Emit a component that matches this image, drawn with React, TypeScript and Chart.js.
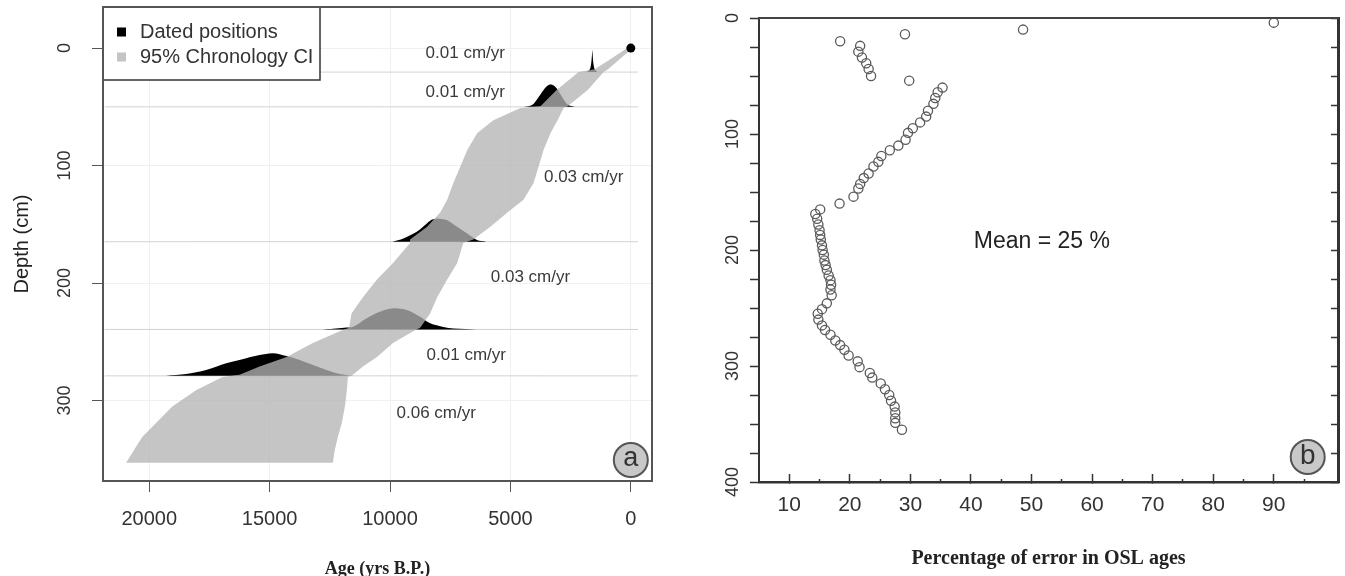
import React, { useEffect, useRef } from 'react';
import { Chart, registerables } from 'chart.js';

Chart.register(...registerables);

const SANS = "'Liberation Sans', Arial, Helvetica, sans-serif";
const SERIF = "'Liberation Serif', 'Times New Roman', serif";

// ---------------- Panel a : age-depth model ----------------
const ageTicks = [0, 5000, 10000, 15000, 20000];
const depthTicksA = [0, 100, 200, 300];
const ageMin = -880;
const ageMax = 21920;
const depthMinA = -35;
const depthMaxA = 368.5;

// horizontal section boundaries (cm) and their extent in age
const sectionDepths = [20.4, 50, 164.8, 239.5, 279];
const sectionLineAges = [21850, -300];

// 95% chronology CI envelope
const ciDepth = [0, 10.2, 18, 20.4, 35.7, 49.5, 51, 61.3, 72.3, 86.8, 101, 115, 129, 140, 152, 163, 166, 183, 197, 212, 226, 238, 241, 251, 263, 271, 278, 280, 291, 305, 319, 331, 342, 353];
const ciOldAge = [150, 900, 1500, 2167, 3083, 3750, 4583, 5708, 6375, 6792, 7083, 7375, 7625, 7917, 8458, 9167, 9167, 9875, 10542, 11125, 11600, 11700, 12083, 13208, 14292, 15417, 16250, 16958, 18042, 19042, 19708, 20292, 20625, 20958];
const ciYoungAge = [-80, 500, 950, 1125, 1792, 2625, 2792, 3042, 3333, 3625, 3833, 4042, 4458, 5125, 5833, 6542, 6958, 7208, 7625, 8042, 8333, 8750, 9042, 9875, 10542, 11125, 11542, 11750, 11792, 11875, 12000, 12167, 12292, 12375];

// dated positions (probability outlines)
const datedAge = [0];
const datedDepth = [0];
const distAAge = [1830, 1700, 1640, 1610, 1597, 1585, 1560, 1500, 1380];
const distADepth = [20.4, 18, 12, 5, 1.7, 5, 12, 18, 20.4];
const distBAge = [4450, 4100, 3820, 3600, 3450, 3333, 3200, 3050, 2900, 2750, 2600, 2300];
const distBDepth = [50, 48.5, 41.4, 35, 31.8, 30.9, 31.8, 35, 40, 45, 48.5, 50];
const distCAge = [9900, 9445, 8890, 8470, 8250, 8055, 7850, 7640, 7220, 6805, 6390, 6000];
const distCDepth = [164.8, 162, 156.3, 149.2, 146, 145, 145.4, 146.4, 152, 157.7, 163.4, 164.8];
const distDAge = [12800, 12360, 11900, 11530, 10970, 10420, 9860, 9305, 8750, 8330, 7780, 7360, 6390];
const distDDepth = [239.5, 238.9, 238, 237.2, 230, 224.4, 221.5, 223, 228.7, 234.3, 237.4, 238.7, 239.5];
const distEAge = [19600, 19305, 18470, 17640, 16800, 15970, 15420, 14860, 14305, 13750, 13200, 12640, 12080, 11530];
const distEDepth = [279, 278.8, 277.4, 274, 268.3, 264, 261.3, 259.8, 262.1, 265.5, 269.8, 274, 277.4, 279];

const rateLabels = ['0.01 cm/yr', '0.01 cm/yr', '0.03 cm/yr', '0.03 cm/yr', '0.01 cm/yr', '0.06 cm/yr'];
const rateAge = [6875, 6875, 1958, 4167, 6833, 8083];
const rateDepth = [4.5, 37.2, 109.8, 194.9, 261.3, 310.6];

const legendLabels = ['Dated positions', '95% Chronology CI'];
const legendColors = ['#000000', '#c4c4c4'];

const tagA = 'a';
const tagAAge = 0;
const tagADepth = 350.6;

// ---------------- Panel b : OSL error ----------------
const pctTicks = [10, 20, 30, 40, 50, 60, 70, 80, 90];
const pctMinorTicks = [15, 25, 35, 45, 55, 65, 75, 85, 95];
const pctMin = 5;
const pctMax = 100.6;
const depthTicksB = [0, 25, 50, 75, 100, 125, 150, 175, 200, 225, 250, 275, 300, 325, 350, 375, 400];
const depthLabelsB = [0, 100, 200, 300, 400];
const depthMinB = 0;
const depthMaxB = 400;

const errDepth = [4, 10, 14, 20, 24, 29, 34, 39, 44, 50, 54, 60, 64, 69, 74, 80, 85, 90, 95, 99, 105, 110, 114, 119, 124, 128, 134, 138, 143, 147, 154, 160, 165, 169, 173, 178, 183, 187, 191, 196, 200, 204, 209, 213, 217, 222, 226, 230, 234, 239, 246, 251, 255, 260, 265, 269, 273, 278, 282, 286, 291, 296, 301, 306, 310, 315, 320, 325, 330, 335, 340, 345, 349, 355];
const errPct = [90, 48.6, 29.1, 18.4, 21.7, 21.4, 22.0, 22.7, 23.1, 23.5, 29.8, 35.3, 34.5, 34.1, 33.8, 32.9, 32.6, 31.6, 30.4, 29.6, 29.2, 28.0, 26.6, 25.2, 24.7, 23.9, 23.1, 22.3, 21.7, 21.4, 20.6, 18.3, 15.1, 14.3, 14.6, 14.8, 15.0, 15.1, 15.2, 15.4, 15.5, 15.7, 15.8, 16.0, 16.2, 16.5, 16.8, 16.9, 16.8, 17.0, 16.2, 15.4, 14.7, 14.8, 15.4, 15.9, 16.8, 17.6, 18.4, 19.1, 19.8, 21.3, 21.6, 23.3, 23.7, 25.1, 25.8, 26.5, 26.8, 27.4, 27.5, 27.5, 27.5, 28.6];

const meanLabel = 'Mean = 25 %';
const meanPct = 51.7;
const meanDepth = 193;
const tagB = 'b';
const tagBPct = 95.6;
const tagBDepth = 378.5;

const toPts = (xs: number[], ys: number[]) => xs.map((x, i) => ({ x, y: ys[i] }));

function noPad(s: any) {
  s.paddingTop = 0;
  s.paddingBottom = 0;
  s.paddingLeft = 0;
  s.paddingRight = 0;
}

function drawTag(ctx: CanvasRenderingContext2D, cx: number, cy: number, r: number, text: string, size: number) {
  ctx.beginPath();
  ctx.arc(cx, cy, r, 0, Math.PI * 2);
  ctx.fillStyle = '#c8c8c8';
  ctx.fill();
  ctx.lineWidth = 2;
  ctx.strokeStyle = '#555';
  ctx.stroke();
  ctx.fillStyle = '#333';
  ctx.font = `${size}px ${SANS}`;
  ctx.textAlign = 'center';
  ctx.textBaseline = 'middle';
  ctx.fillText(text, cx, cy - 1);
}

export default function App() {
  const refA = useRef<HTMLCanvasElement>(null);
  const refB = useRef<HTMLCanvasElement>(null);

  useEffect(() => {
    const ciPolygon = [
      ...toPts(ciOldAge, ciDepth),
      ...toPts(ciYoungAge, ciDepth).reverse(),
    ];
    const dists = [
      toPts(distAAge, distADepth),
      toPts(distBAge, distBDepth),
      toPts(distCAge, distCDepth),
      toPts(distDAge, distDDepth),
      toPts(distEAge, distEDepth),
    ];

    const annotA = {
      id: 'annotA',
      afterDraw(chart: any) {
        const { ctx, chartArea: ca, scales } = chart;
        const x = scales.x;
        const y = scales.y;
        ctx.save();
        ctx.font = `17px ${SANS}`;
        ctx.fillStyle = '#3a3a3a';
        ctx.textAlign = 'center';
        ctx.textBaseline = 'middle';
        rateLabels.forEach((t, i) => {
          ctx.fillText(t, x.getPixelForValue(rateAge[i]), y.getPixelForValue(rateDepth[i]));
        });
        const lx = ca.left;
        const ly = ca.top;
        ctx.fillStyle = '#ffffff';
        ctx.fillRect(lx, ly, 217, 73);
        ctx.lineWidth = 1.5;
        ctx.strokeStyle = '#333';
        ctx.strokeRect(lx, ly, 217, 73);
        ctx.font = `20px ${SANS}`;
        ctx.textAlign = 'left';
        legendLabels.forEach((t, i) => {
          const cy = ly + 25 + i * 25;
          ctx.fillStyle = legendColors[i];
          ctx.fillRect(lx + 14, cy - 4.5, 9, 9);
          ctx.fillStyle = '#333';
          ctx.fillText(t, lx + 37, cy);
        });
        ctx.lineWidth = 2;
        ctx.strokeStyle = '#555';
        ctx.strokeRect(ca.left, ca.top, ca.right - ca.left, ca.bottom - ca.top);
        drawTag(ctx, x.getPixelForValue(tagAAge), y.getPixelForValue(tagADepth), 17, tagA, 27);
        ctx.restore();
      },
    };

    const chartA = new Chart(refA.current as HTMLCanvasElement, {
      type: 'scatter',
      data: {
        datasets: [
          {
            label: 'dated0',
            data: toPts(datedAge, datedDepth),
            pointRadius: 4.5,
            pointBackgroundColor: '#000',
            pointBorderColor: '#000',
            pointBorderWidth: 0,
            showLine: false,
            order: 0,
          } as any,
          {
            label: 'ci',
            data: ciPolygon,
            showLine: true,
            fill: 'shape',
            backgroundColor: 'rgba(179,179,179,0.77)',
            borderColor: 'rgba(0,0,0,0)',
            borderWidth: 0,
            pointRadius: 0,
            tension: 0,
            order: 1,
          },
          ...dists.map((d, i) => ({
            label: 'dist' + i,
            data: d,
            showLine: true,
            fill: 'shape',
            backgroundColor: '#000',
            borderColor: 'rgba(0,0,0,0)',
            borderWidth: 0,
            pointRadius: 0,
            tension: 0.3,
            order: 2,
          })),
          ...sectionDepths.map((dep, i) => ({
            label: 'sec' + i,
            data: sectionLineAges.map((a) => ({ x: a, y: dep })),
            showLine: true,
            fill: false,
            borderColor: '#d2d2d2',
            borderWidth: 1,
            pointRadius: 0,
            order: 3,
          })),
        ] as any,
      },
      options: {
        animation: false,
        responsive: false,
        devicePixelRatio: 1,
        layout: { padding: { left: 0, top: 7, right: 38, bottom: 0 } },
        plugins: { legend: { display: false }, tooltip: { enabled: false } },
        scales: {
          x: {
            type: 'linear',
            min: ageMin,
            max: ageMax,
            reverse: true,
            position: 'bottom',
            afterBuildTicks: (s: any) => { s.ticks = ageTicks.map((v) => ({ value: v })); },
            afterFit: (s: any) => { s.height = 99; noPad(s); },
            grid: { color: '#f0f0f0', tickColor: '#555', tickLength: 11, lineWidth: 1 },
            border: { display: false },
            ticks: {
              autoSkip: false,
              maxRotation: 0,
              padding: 15,
              color: '#333',
              font: { family: SANS, size: 20 },
              callback: (v: any) => String(v),
            },
            title: {
              display: true,
              text: 'Age (yrs B.P.)',
              color: '#222',
              font: { family: SERIF, size: 18, weight: 'bold' },
              padding: { top: 0, bottom: 0 },
            },
          },
          y: {
            type: 'linear',
            min: depthMinA,
            max: depthMaxA,
            reverse: true,
            position: 'left',
            afterBuildTicks: (s: any) => { s.ticks = depthTicksA.map((v) => ({ value: v })); },
            afterFit: (s: any) => { s.width = 103; noPad(s); },
            grid: { color: '#f0f0f0', tickColor: '#555', tickLength: 11, lineWidth: 1 },
            border: { display: false },
            ticks: {
              autoSkip: false,
              minRotation: 90,
              maxRotation: 90,
              crossAlign: 'center',
              padding: 12,
              color: '#333',
              font: { family: SANS, size: 18 },
              callback: (v: any) => String(v),
            },
            title: {
              display: true,
              text: 'Depth (cm)',
              color: '#222',
              font: { family: SANS, size: 20 },
              padding: { top: 10, bottom: 0 },
            },
          },
        },
      } as any,
      plugins: [annotA],
    });

    const annotB = {
      id: 'annotB',
      afterDraw(chart: any) {
        const { ctx, chartArea: ca, scales } = chart;
        const x = scales.x;
        const y = scales.y;
        ctx.save();
        ctx.lineWidth = 2;
        ctx.strokeStyle = '#444';
        ctx.beginPath();
        ctx.moveTo(ca.left - 1, ca.top);
        ctx.lineTo(ca.right + 1, ca.top);
        ctx.stroke();
        ctx.font = `23px ${SANS}`;
        ctx.fillStyle = '#222';
        ctx.textAlign = 'center';
        ctx.textBaseline = 'middle';
        ctx.fillText(meanLabel, x.getPixelForValue(meanPct), y.getPixelForValue(meanDepth));
        drawTag(ctx, x.getPixelForValue(tagBPct), y.getPixelForValue(tagBDepth), 17, tagB, 28);
        ctx.restore();
      },
    };

    const chartB = new Chart(refB.current as HTMLCanvasElement, {
      type: 'scatter',
      data: {
        datasets: [
          {
            label: 'OSL error',
            data: toPts(errPct, errDepth),
            pointRadius: 4.6,
            pointBorderWidth: 1.3,
            pointBorderColor: '#5a5a5a',
            pointBackgroundColor: 'rgba(255,255,255,0)',
            showLine: false,
          },
        ],
      },
      options: {
        animation: false,
        responsive: false,
        devicePixelRatio: 1,
        layout: { padding: { left: 0, top: 18, right: 0, bottom: 0 } },
        plugins: { legend: { display: false }, tooltip: { enabled: false } },
        scales: {
          x2: {
            type: 'linear',
            min: pctMin,
            max: pctMax,
            position: 'bottom',
            weight: 0,
            afterBuildTicks: (s: any) => { s.ticks = pctMinorTicks.map((v) => ({ value: v })); },
            afterFit: (s: any) => { s.height = 0; noPad(s); },
            grid: { drawOnChartArea: false, tickColor: '#333', tickLength: -3, tickWidth: 1.5 },
            border: { display: false },
            ticks: { display: false },
          },
          x: {
            type: 'linear',
            min: pctMin,
            max: pctMax,
            position: 'bottom',
            weight: 5,
            afterBuildTicks: (s: any) => { s.ticks = pctTicks.map((v) => ({ value: v })); },
            afterFit: (s: any) => { s.height = 94; noPad(s); },
            grid: { drawOnChartArea: false, tickColor: '#333', tickLength: -8, tickWidth: 1.5 },
            border: { display: true, color: '#333', width: 2.5 },
            ticks: {
              autoSkip: false,
              maxRotation: 0,
              padding: 19,
              color: '#333',
              font: { family: SANS, size: 21 },
              callback: (v: any) => String(v),
            },
            title: {
              display: true,
              text: 'Percentage of error in OSL ages',
              color: '#222',
              font: { family: SERIF, size: 20, weight: 'bold' },
              padding: { top: 0, bottom: 5 },
            },
          },
          y: {
            type: 'linear',
            min: depthMinB,
            max: depthMaxB,
            reverse: true,
            position: 'left',
            afterBuildTicks: (s: any) => { s.ticks = depthTicksB.map((v) => ({ value: v })); },
            afterFit: (s: any) => { s.width = 69; noPad(s); },
            grid: { drawOnChartArea: false, tickColor: '#333', tickLength: 9, tickWidth: 1.5 },
            border: { display: true, color: '#333', width: 2 },
            ticks: {
              autoSkip: false,
              minRotation: 90,
              maxRotation: 90,
              crossAlign: 'center',
              padding: 2,
              color: '#333',
              font: { family: SANS, size: 18 },
              callback: (v: any) => (depthLabelsB.includes(v) ? String(v) : ''),
            },
          },
          y2: {
            type: 'linear',
            min: depthMinB,
            max: depthMaxB,
            reverse: true,
            position: 'right',
            afterBuildTicks: (s: any) => { s.ticks = depthTicksB.map((v) => ({ value: v })); },
            afterFit: (s: any) => { s.width = 7; noPad(s); },
            grid: { drawOnChartArea: false, tickColor: '#333', tickLength: -7, tickWidth: 1.5 },
            border: { display: true, color: '#333', width: 3 },
            ticks: { display: false },
          },
        },
      } as any,
      plugins: [annotB],
    });

    return () => {
      chartA.destroy();
      chartB.destroy();
    };
  }, []);

  return (
    <div style={{ position: 'fixed', left: 0, top: 0, width: 1345, height: 576, background: '#ffffff', overflow: 'hidden' }}>
      <canvas ref={refA} width={690} height={580} style={{ position: 'absolute', left: 0, top: 0, width: 690, height: 580 }} />
      <canvas ref={refB} width={655} height={576} style={{ position: 'absolute', left: 690, top: 0, width: 655, height: 576 }} />
    </div>
  );
}
